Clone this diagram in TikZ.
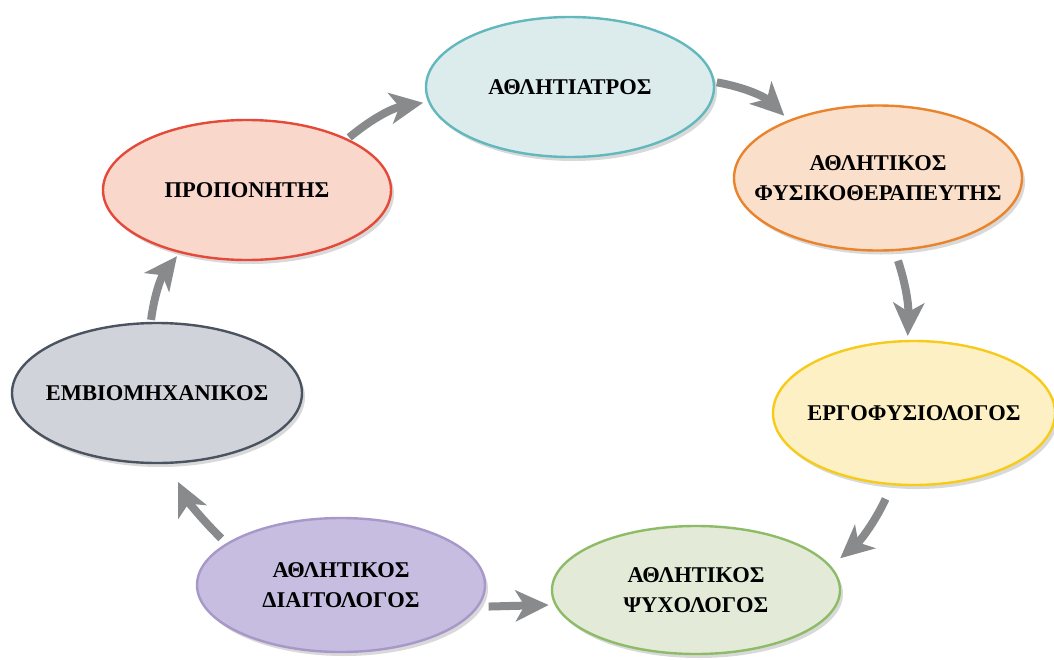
\documentclass[tikz,border=0pt]{standalone}
\usepackage{fontspec}
\setmainfont{Liberation Serif}
\usetikzlibrary{arrows.meta}
\usetikzlibrary{shapes.geometric}
\usetikzlibrary{shadows}

\definecolor{tealfill}{HTML}{DCEBEC}
\definecolor{tealline}{HTML}{62B8BD}
\definecolor{orangefill}{HTML}{FADFCB}
\definecolor{orangeline}{HTML}{E9842C}
\definecolor{yellowfill}{HTML}{FDF0C4}
\definecolor{yellowline}{HTML}{F6CB1A}
\definecolor{greenfill}{HTML}{E3EBD8}
\definecolor{greenline}{HTML}{8DBB67}
\definecolor{purplefill}{HTML}{C6BDE0}
\definecolor{purpleline}{HTML}{A898CA}
\definecolor{grayfill}{HTML}{D0D4DA}
\definecolor{grayline}{HTML}{4B5361}
\definecolor{redfill}{HTML}{F9D7CB}
\definecolor{redline}{HTML}{E5493A}
\definecolor{arrowgray}{HTML}{898A8C}

\begin{document}
\begin{tikzpicture}[x=1pt, y=-1pt,
	bubble/.style={ellipse, line width=2.4pt, minimum width=288pt, minimum height=140pt,
		inner xsep=-28pt, inner ysep=0pt, align=center,
		font=\fontsize{22.5}{30}\selectfont\bfseries,
		drop shadow={shadow xshift=3pt, shadow yshift=-4pt, opacity=.3}},
	flow/.style={line width=8pt, draw=arrowgray, -{Stealth[length=33pt, width=31pt, inset=9pt]}, shorten <=2pt}]
	\useasboundingbox (0,0) rectangle (1054,659);

	% draw the seven specialists
	\node[bubble, fill=tealfill, draw=tealline] (doctor) at (570,87) {ΑΘΛΗΤΙΑΤΡΟΣ};
	\node[bubble, fill=orangefill, draw=orangeline, minimum height=145pt] (physio) at (878,178) {ΑΘΛΗΤΙΚΟΣ\\ΦΥΣΙΚΟΘΕΡΑΠΕΥΤΗΣ};
	\node[bubble, fill=yellowfill, draw=yellowline, minimum width=282pt, minimum height=144pt] (ergo) at (914,413) {ΕΡΓΟΦΥΣΙΟΛΟΓΟΣ};
	\node[bubble, fill=greenfill, draw=greenline, minimum height=128pt] (psych) at (696,590) {ΑΘΛΗΤΙΚΟΣ\\ΨΥΧΟΛΟΓΟΣ};
	\node[bubble, fill=purplefill, draw=purpleline, minimum height=134pt] (diet) at (341,585) {ΑΘΛΗΤΙΚΟΣ\\ΔΙΑΙΤΟΛΟΓΟΣ};
	\node[bubble, fill=grayfill, draw=grayline, minimum width=290pt] (biomech) at (157,393) {ΕΜΒΙΟΜΗΧΑΝΙΚΟΣ};
	\node[bubble, fill=redfill, draw=redline] (coach) at (247,190) {ΠΡΟΠΟΝΗΤΗΣ};

	% draw the arrows round the cycle
	\draw[flow, shorten >=5pt] (coach.27) to[bend left=15] (doctor.186);
	\draw[flow, shorten >=6pt] (doctor.2) to[bend left=17] (physio.147);
	\draw[flow, shorten <=10pt, shorten >=4pt] (physio.-77) to[bend left=10] (ergo.95);
	\draw[flow, shorten <=15pt, shorten >=12pt] (ergo.-107) to[bend left=12] (psych.10);
	% the dietitian feeds two bubbles
	\draw[flow, shorten <=10pt, shorten >=6pt] (diet.-9.2) -- (psych.186.1);
	\draw[flow, shorten <=7pt, shorten >=20pt] (diet.160) to[bend left=10] (biomech.-80);
	\draw[flow, shorten >=4pt] (biomech.95.5) to[bend left=15] (coach.223);
\end{tikzpicture}
\end{document}
